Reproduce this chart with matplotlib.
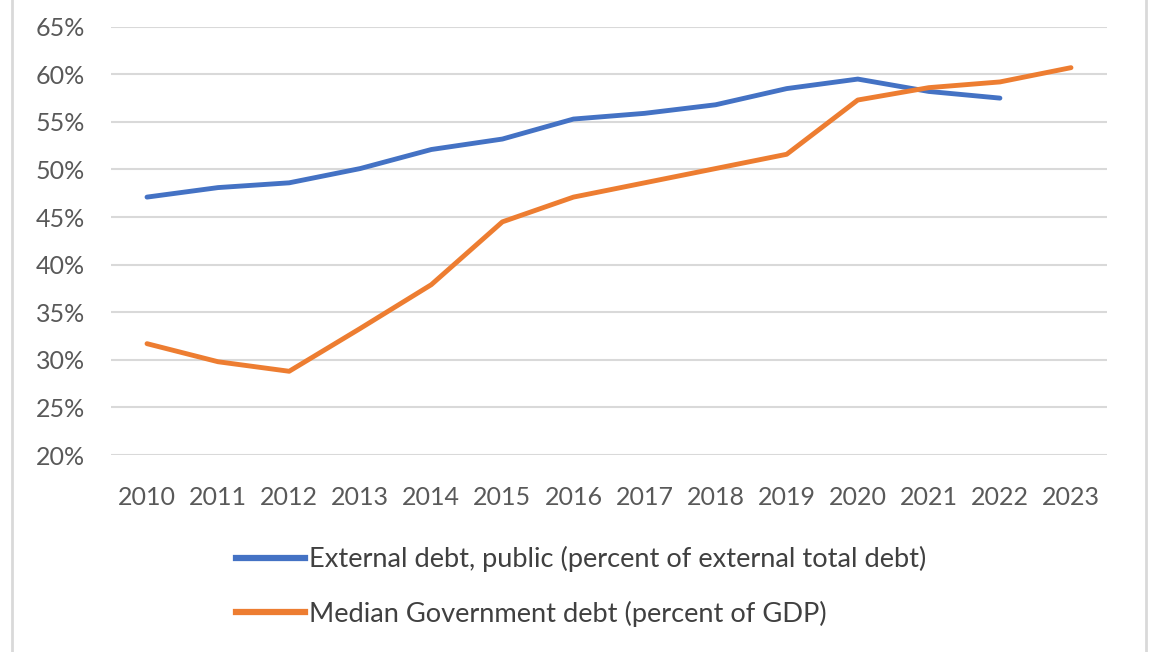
import matplotlib
matplotlib.use('Agg')
import matplotlib.pyplot as plt
from matplotlib.lines import Line2D
from matplotlib.ticker import FuncFormatter

plt.rcParams['font.family'] = ['Lato', 'DejaVu Sans']

#------------------------------- Dados do grafico -------------------------------
anos = ['2010', '2011', '2012', '2013', '2014', '2015', '2016',
        '2017', '2018', '2019', '2020', '2021', '2022', '2023']

# divida externa publica (% da divida externa total) - sem 2023
divida_externa = [47.1, 48.1, 48.6, 50.1, 52.1, 53.2, 55.3,
                  55.9, 56.8, 58.5, 59.5, 58.2, 57.5]

# divida mediana do governo (% do PIB)
divida_governo = [31.7, 29.8, 28.8, 33.3, 37.9, 44.5, 47.1,
                  48.6, 50.1, 51.6, 57.3, 58.6, 59.2, 60.7]

nome_externa = 'External debt, public (percent of external total debt)'
nome_governo = 'Median Government debt (percent of GDP)'
#------------------------------- Dados do grafico -------------------------------

azul = '#4472C4'
laranja = '#ED7D31'
cinza_texto = '#595959'

fig = plt.figure(figsize=(11.6, 6.52), dpi=100)
ax = fig.add_axes([0.0961, 0.3021, 0.8578, 0.6569])

x_ext = list(range(len(divida_externa)))
x_gov = list(range(len(divida_governo)))

ax.plot(x_ext, divida_externa, color=azul, lw=3.5, solid_capstyle='round',
        solid_joinstyle='round', zorder=3)
ax.plot(x_gov, divida_governo, color=laranja, lw=3.5, solid_capstyle='round',
        solid_joinstyle='round', zorder=3)

ax.set_xlim(-0.5, len(anos) - 0.5)
ax.set_ylim(20, 65)
ax.set_yticks(range(20, 66, 5))
ax.yaxis.set_major_formatter(FuncFormatter(lambda v, p: f'{v:.0f}%'))
ax.set_xticks(range(len(anos)))
ax.set_xticklabels(anos)

ax.grid(axis='y', color='#d9d9d9', lw=1.5)
ax.set_axisbelow(True)
for s in ax.spines.values():
    s.set_visible(False)
ax.tick_params(length=0, labelsize=18, colors=cinza_texto)
ax.tick_params(axis='x', pad=22)
ax.tick_params(axis='y', pad=19)

handles = [Line2D([], [], color=azul, lw=4.5),
           Line2D([], [], color=laranja, lw=4.5)]
fig.legend(handles, [nome_externa, nome_governo], loc='upper left',
           bbox_to_anchor=(0.194, 0.179), frameon=False, fontsize=19.6,
           handlelength=2.55, handletextpad=0.12, labelspacing=1.04,
           labelcolor='#404040', borderaxespad=0)

# moldura do grafico (laterais)
fig.add_artist(Line2D([0.0105, 0.0105], [0, 1], color='#d9d9d9', lw=2,
                      transform=fig.transFigure))
fig.add_artist(Line2D([0.9877, 0.9877], [0, 1], color='#d9d9d9', lw=2,
                      transform=fig.transFigure))

fig.savefig('out.png', dpi=100)
